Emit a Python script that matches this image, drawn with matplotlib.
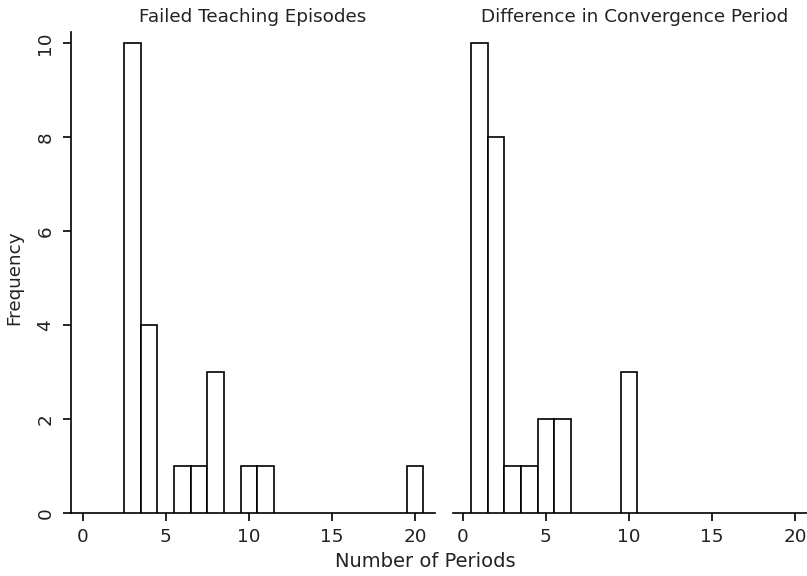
import matplotlib
matplotlib.use("Agg")
import matplotlib.pyplot as plt

# Data
left_title = "Failed Teaching Episodes"
left_periods = [3, 4, 6, 7, 8, 10, 11, 20]
left_freq = [10, 4, 1, 1, 3, 1, 1, 1]

right_title = "Difference in Convergence Period"
right_periods = [1, 2, 3, 4, 5, 6, 10]
right_freq = [10, 8, 1, 1, 2, 2, 3]

x_ticks = [0, 5, 10, 15, 20]
y_ticks = [0, 2, 4, 6, 8, 10]
x_label = "Number of Periods"
y_label = "Frequency"

plt.rcParams['font.family'] = ['DejaVu Sans']
FS = 13.2
LW = 1.2

W, H = 807, 576
fig = plt.figure(figsize=(W / 100, H / 100), dpi=100)

bottom = 1 - 513 / H
height = (513 - 32) / H
ax1 = fig.add_axes([71 / W, bottom, (435 - 71) / W, height])
ax2 = fig.add_axes([452.7 / W, bottom, (817 - 452.7) / W, height])

for ax, xs, ys, title in [(ax1, left_periods, left_freq, left_title),
                          (ax2, right_periods, right_freq, right_title)]:
    ax.bar(xs, ys, width=1.0, align='center', facecolor='white',
           edgecolor='black', linewidth=LW, zorder=3)
    ax.set_ylim(0, 10.23)
    ax.set_xticks(x_ticks)
    ax.set_xticklabels([str(t) for t in x_ticks], fontsize=FS, color='#222222')
    ax.tick_params(axis='x', length=6, width=LW, pad=5, direction='out')
    for s in ['top', 'right']:
        ax.spines[s].set_visible(False)
    ax.spines['bottom'].set_linewidth(LW)
    ax.set_title(title, fontsize=FS, color='#222222', pad=7)

ax1.set_xlim(-0.7, 21.2)
ax2.set_xlim(-0.6, 21.3)

ax1.spines['left'].set_linewidth(LW)
ax1.set_yticks(y_ticks)
ax1.set_yticklabels([str(t) for t in y_ticks], fontsize=FS, color='#222222',
                    rotation=90, va='center')
ax1.tick_params(axis='y', length=6, width=LW, pad=6, direction='out')

ax2.spines['left'].set_visible(False)
ax2.set_yticks([])

fig.text(425 / W, 1 - 566.7 / H, x_label, fontsize=14, ha='center',
         va='baseline', color='#222222')
fig.text(14 / W, 1 - 278 / H, y_label, fontsize=FS, ha='center',
         va='center', rotation=90, color='#222222')

fig.savefig("out.png", dpi=100, facecolor='white')
